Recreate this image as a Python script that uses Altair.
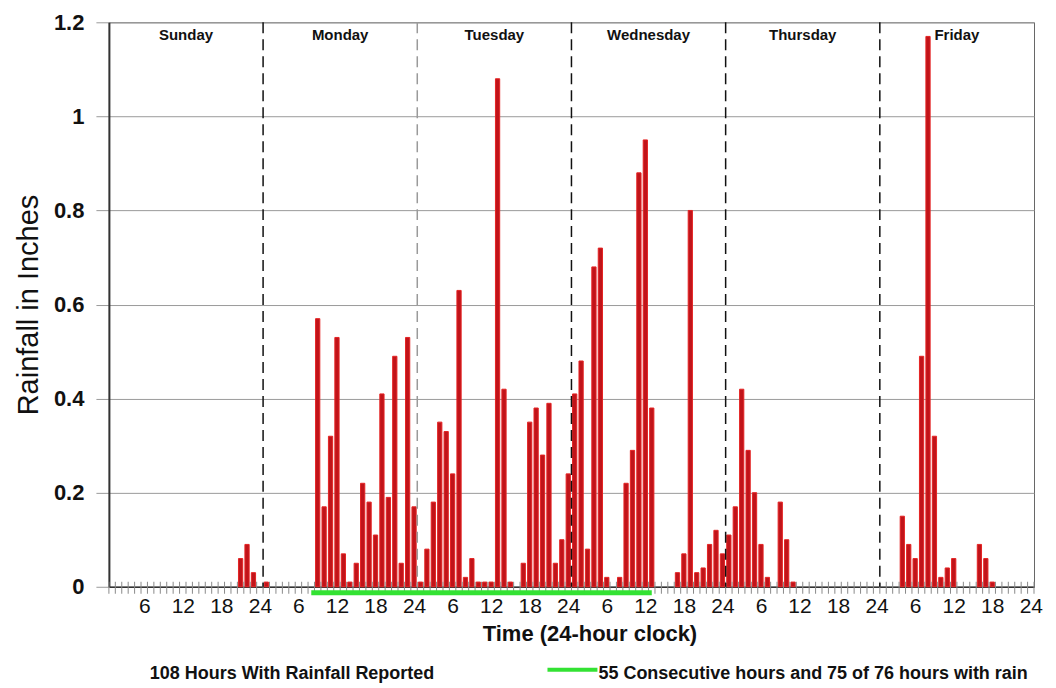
import altair as alt
import pandas as pd

# ---------------- data ----------------
days = ["Sunday", "Monday", "Tuesday", "Wednesday", "Thursday", "Friday"]

# hour index counted from Sunday 00:00 (0..143) and hourly rainfall (inches)
rain_hour = [20, 21, 22, 24,
             32, 33, 34, 35, 36, 37, 38, 39, 40, 41, 42, 43, 44, 45, 46, 47,
             48, 49, 50, 51, 52, 53, 54, 55, 56, 57, 58, 59, 60, 61, 62,
             64, 65, 66, 67, 68, 69, 70, 71,
             72, 73, 74, 75, 76, 77, 79, 80, 81, 82, 83, 84,
             88, 89, 90, 91, 92, 93, 94, 95,
             96, 97, 98, 99, 100, 101, 102, 104, 105, 106,
             123, 124, 125, 126, 127, 128, 129, 130, 131, 135, 136, 137]
rain_inches = [0.06, 0.09, 0.03, 0.01,
               0.57, 0.17, 0.32, 0.53, 0.07, 0.01, 0.05, 0.22, 0.18, 0.11, 0.41, 0.19, 0.49, 0.05, 0.53, 0.17,
               0.01, 0.08, 0.18, 0.35, 0.33, 0.24, 0.63, 0.02, 0.06, 0.01, 0.01, 0.01, 1.08, 0.42, 0.01,
               0.05, 0.35, 0.38, 0.28, 0.39, 0.05, 0.10, 0.24,
               0.41, 0.48, 0.08, 0.68, 0.72, 0.02, 0.02, 0.22, 0.29, 0.88, 0.95, 0.38,
               0.03, 0.07, 0.80, 0.03, 0.04, 0.09, 0.12, 0.07,
               0.11, 0.17, 0.42, 0.29, 0.20, 0.09, 0.02, 0.18, 0.10, 0.01,
               0.15, 0.09, 0.06, 0.49, 1.17, 0.32, 0.02, 0.04, 0.06, 0.09, 0.06, 0.01]

tick_labels = ["6", "12", "18", "24"]
y_ticks = [0, 0.2, 0.4, 0.6, 0.8, 1.0, 1.2]
dark_dividers = [24, 72, 96, 120]
light_dividers = [48]
green_span_start = [31.5]
green_span_end = [84.5]
x_title = "Time (24-hour clock)"
y_title = "Rainfall in Inches"
note_left = "108 Hours With Rainfall Reported"
note_right = "55 Consecutive hours and 75 of 76 hours with rain"

# ---------------- layout ----------------
W, H = 926, 565
FONT = "Liberation Sans"
BAR_FILL = "#C0141A"
BAR_EDGE = "#E52323"
GREEN = "#33E233"

bars_df = pd.DataFrame({"hour": rain_hour, "rain": rain_inches})
bars_df["x0"] = bars_df["hour"] + 0.17
bars_df["x1"] = bars_df["hour"] + 0.83
bars_df["base"] = 0.0

label_pos = [d * 24 + int(t) - 0.5 for d in range(len(days)) for t in tick_labels]

x_scale = alt.Scale(domain=[0, 24 * len(days)], nice=False, zero=False)
y_scale = alt.Scale(domain=[0, 1.2], nice=False)

x_axis = alt.Axis(
    values=label_pos,
    labelExpr="toString((datum.value + 0.5) % 24 == 0 ? 24 : (datum.value + 0.5) % 24)",
    ticks=False, grid=False, domainColor="#333333", domainWidth=1.5,
    labelFontSize=21, labelPadding=9, labelColor="#111111", labelFlush=False,
    labelOverlap=False,
    titleFontSize=22, titleFontWeight="bold", titleColor="#111111",
    titlePadding=7, titleX=481)


def xq(field):
    return alt.X(field, scale=x_scale, axis=x_axis, title=x_title)


bars = alt.Chart(bars_df).mark_rect(
    fill=BAR_FILL, stroke=BAR_EDGE, strokeWidth=1
).encode(
    x=xq("x0:Q"),
    x2="x1:Q",
    y=alt.Y("rain:Q", scale=y_scale, title=y_title, axis=alt.Axis(
        values=y_ticks, format=".1~f", grid=True, gridColor="#9a9a9a", gridWidth=1,
        tickSize=13, tickColor="#9a9a9a", domainColor="#333333", domainWidth=2,
        labelFontSize=22, labelFontWeight="bold", labelPadding=12, labelColor="#111111",
        titleFontSize=29, titleFontWeight="normal", titleColor="#111111",
        titlePadding=10)),
    y2="base:Q",
)

hour_ticks = alt.Chart(pd.DataFrame({"h": list(range(0, 24 * len(days) + 1))})).mark_rule(
    color="#8a8a8a", strokeWidth=1
).encode(
    x=xq("h:Q"),
    y=alt.value(H - 5), y2=alt.value(H + 7),
)

dark_div = alt.Chart(pd.DataFrame({"h": dark_dividers})).mark_rule(
    color="#111111", strokeWidth=1.5, strokeDash=[11, 6]
).encode(x=xq("h:Q"), y=alt.value(0), y2=alt.value(H))

light_div = alt.Chart(pd.DataFrame({"h": light_dividers})).mark_rule(
    color="#9a9a9a", strokeWidth=1.5, strokeDash=[11, 6]
).encode(x=xq("h:Q"), y=alt.value(0), y2=alt.value(H))

day_df = pd.DataFrame({"day": days, "c": [d * 24 + 12 for d in range(len(days))]})
day_text = alt.Chart(day_df).mark_text(
    font=FONT, fontSize=15, fontWeight="bold", color="#111111", baseline="middle"
).encode(x=xq("c:Q"), y=alt.value(13), text="day:N")

green = alt.Chart(pd.DataFrame({"s": green_span_start, "e": green_span_end})).mark_rule(
    color=GREEN, strokeWidth=5
).encode(x=xq("s:Q"), x2="e:Q", y=alt.value(H + 6))

note_l = alt.Chart(pd.DataFrame({"t": [note_left]})).mark_text(
    font=FONT, fontSize=18, fontWeight="bold", color="#111111", align="left", baseline="middle"
).encode(x=alt.value(41), y=alt.value(H + 87), text="t:N")

legend_line = alt.Chart(pd.DataFrame({"t": [note_right]})).mark_rule(
    color=GREEN, strokeWidth=4
).encode(x=alt.value(439), x2=alt.value(489), y=alt.value(H + 83))

note_r = alt.Chart(pd.DataFrame({"t": [note_right]})).mark_text(
    font=FONT, fontSize=18, fontWeight="bold", color="#111111", align="left", baseline="middle"
).encode(x=alt.value(490), y=alt.value(H + 87), text="t:N")

chart = alt.layer(
    bars, hour_ticks, dark_div, light_div, day_text, green, note_l, legend_line, note_r
).properties(
    width=W, height=H,
    autosize=alt.AutoSizeParams(type="none"),
    padding={"left": 101, "top": 14, "right": 14, "bottom": 100},
).configure(font=FONT).configure_view(stroke="#666666", strokeWidth=1)

chart.save("out.html", embed_options={"renderer": "svg", "actions": False})
